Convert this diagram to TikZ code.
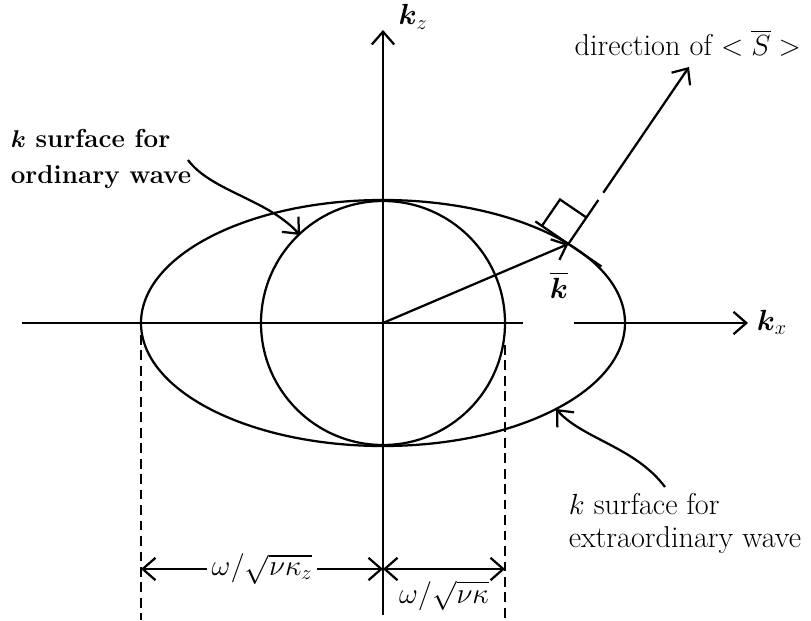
\documentclass[tikz,border=0pt]{standalone}
\usepackage{amsmath}
\usetikzlibrary{arrows.meta,calc}
\begin{document}
\begin{tikzpicture}[line width=1.6pt, >={Straight Barb[length=3.2mm,width=5.6mm]},
    font=\fontsize{21.5}{24}\selectfont]
    \useasboundingbox (-9.575,-7.425) rectangle (10.7,8.075);

    % ==================== TRỤC TỌA ĐỘ ====================
    \coordinate (O) at (0,0);
    \coordinate (xl) at (-9.025,0);
    \coordinate (xg1) at (3.5,0);
    \coordinate (xg2) at (4.775,0);
    \coordinate (xr) at (9.125,0);
    \coordinate (zb) at (0,-7.3);
    \coordinate (zt) at (0,7.325);
    \draw (xl) -- (xg1);
    \draw[->] (xg2) -- (xr);
    \draw[->] (zb) -- (zt);
    \node[right] (kx) at (9.2,0.02) {$\boldsymbol{k}_x$};
    \node (kz) at (0.75,7.65) {$\boldsymbol{k}_z$};

    % Mặt k: elip (sóng bất thường) và đường tròn (sóng thường)
    \draw (O) ellipse (6.05 and 3.075);
    \draw (O) circle (3.05);

    % ==================== VECTƠ k VÀ HƯỚNG <S> ====================
    \coordinate (P) at ({6.05*cos(40)},{3.075*sin(40)});
    \coordinate (Stip) at (7.65,6.4);
    \draw[->] (O) -- (P);
    \node (kbar) at (4.4,0.95) {$\overline{\boldsymbol{k}}$};

    % Tiếp tuyến và góc vuông
    \draw ($(P)!1cm!90:(Stip)$) -- ($(P)!1cm!-90:(Stip)$);
    \coordinate (sqa) at ($(P)!0.8cm!(Stip)$);
    \coordinate (sqb) at ($(P)!0.8cm!90:(Stip)$);
    \draw (sqb) -- ($(sqa)+(sqb)-(P)$) -- (sqa);

    % Hướng của <S> (nét bị ngắt một đoạn)
    \draw (P) -- ($(P)!1.33cm!(Stip)$);
    \draw[->] ($(P)!1.55cm!(Stip)$) -- (Stip);
    \node (dirS) at (7.62,7.0) {direction of $<\overline{S}>$};

    % ==================== CHÚ THÍCH ====================
    \node[anchor=west, align=left, font=\fontsize{18.5}{26}\selectfont\bfseries]
        (ordlbl) at (-9.45,4.1) {$\boldsymbol{k}$ surface for\\ordinary wave};
    \coordinate (ords) at (-4.875,4.075);
    \coordinate (ordt) at (-2.075,2.2);
    \draw[->] (ords) .. controls (-4.3,3.3) and (-2.9,3.1) .. (ordt);

    \node[anchor=west, align=left, font=\fontsize{21.5}{23.5}\selectfont]
        (extlbl) at (4.5,-5.0) {$k$ surface for\\extraordinary wave};
    \coordinate (exts) at (7.05,-4.1);
    \coordinate (extt) at (4.325,-2.15);
    \draw[->] (exts) .. controls (6.3,-3.1) and (5.0,-2.9) .. (extt);

    % ==================== KÍCH THƯỚC ====================
    \coordinate (dl) at (-6.05,-6.15);
    \coordinate (dm) at (0,-6.15);
    \coordinate (dr) at (3.05,-6.15);
    \draw[dash pattern=on 7pt off 4pt] (-6.05,-0.3) -- (-6.05,-7.425);
    \draw[dash pattern=on 7pt off 4pt] (3.05,-0.55) -- (3.05,-7.425);
    \draw[<->] (dl) -- node[fill=white, inner sep=3pt] (wlbl) {$\omega/\sqrt{\nu\kappa_z}$} (dm);
    \draw[<->] (dm) -- node[below=4pt] (wrbl) {$\omega/\sqrt{\nu\kappa}$} (dr);
\end{tikzpicture}
\end{document}
